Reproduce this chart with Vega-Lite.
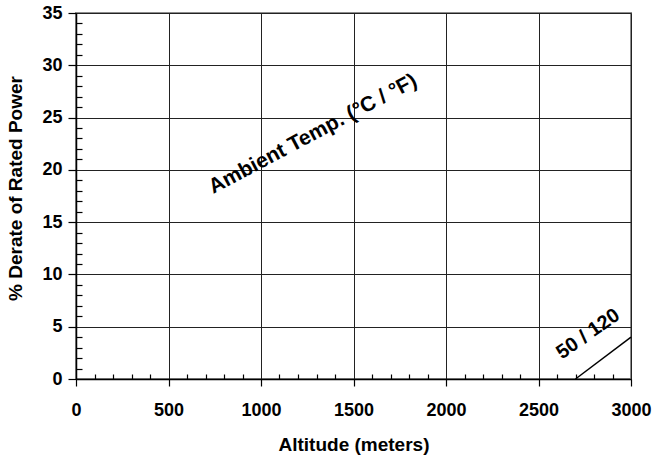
{
  "$schema": "https://vega.github.io/schema/vega-lite/v6.json",
  "width": 555,
  "height": 366,
  "autosize": "none",
  "padding": {"left": 76, "top": 13, "right": 21, "bottom": 77},
  "background": "white",
  "config": {
    "font": "Liberation Sans",
    "view": {"stroke": "#8c8c8c", "strokeWidth": 2},
    "axis": {
      "labelFont": "Liberation Sans",
      "labelFontWeight": "bold",
      "labelFontSize": 18,
      "labelColor": "black",
      "titleFont": "Liberation Sans",
      "titleFontWeight": "bold",
      "titleFontSize": 19,
      "titleColor": "black",
      "domainColor": "black",
      "domainWidth": 1.5,
      "tickColor": "black",
      "tickWidth": 1.2,
      "gridColor": "#222222",
      "gridWidth": 1,
      "gridOpacity": 1
    }
  },
  "datasets": {
    "curve": [
      {"altitude": 2700, "derate": 0},
      {"altitude": 3000, "derate": 4}
    ],
    "notes": [
      {"altitude": 1281, "derate": 23.4, "label": "Ambient Temp. (°C / °F)", "kind": "title"},
      {"altitude": 2768, "derate": 4.3, "label": "50 / 120", "kind": "curve"}
    ]
  },
  "resolve": {"axis": {"x": "independent", "y": "independent"}},
  "layer": [
    {
      "data": {"name": "curve"},
      "mark": {"type": "line", "color": "black", "strokeWidth": 1.5},
      "encoding": {
        "x": {
          "field": "altitude",
          "type": "quantitative",
          "scale": {"domain": [0, 3000], "nice": false, "zero": false},
          "axis": {
            "orient": "bottom",
            "title": "Altitude (meters)",
            "values": [0, 500, 1000, 1500, 2000, 2500, 3000],
            "format": "d",
            "grid": true,
            "tickSize": 7,
            "labelPadding": 15,
            "titlePadding": 16,
            "labelFlush": false
          }
        },
        "y": {
          "field": "derate",
          "type": "quantitative",
          "scale": {"domain": [0, 35], "nice": false},
          "axis": {
            "orient": "left",
            "title": "% Derate of Rated Power",
            "values": [0, 5, 10, 15, 20, 25, 30, 35],
            "format": "d",
            "grid": true,
            "tickSize": 8,
            "labelPadding": 6,
            "titlePadding": 16,
            "titleY": 175,
            "labelFlush": false
          }
        }
      }
    },
    {
      "data": {"name": "notes"},
      "transform": [{"filter": "datum.kind === 'title'"}],
      "mark": {"type": "text", "angle": -28, "fontSize": 21, "fontWeight": "bold", "font": "Liberation Sans", "color": "black", "align": "center", "baseline": "middle"},
      "encoding": {
        "x": {
          "field": "altitude",
          "type": "quantitative",
          "axis": {
            "orient": "bottom",
            "title": null,
            "labels": false,
            "domain": false,
            "grid": false,
            "tickSize": -5,
            "values": [100, 200, 300, 400, 600, 700, 800, 900, 1100, 1200, 1300, 1400, 1600, 1700, 1800, 1900, 2100, 2200, 2300, 2400, 2600, 2700, 2800, 2900]
          }
        },
        "y": {
          "field": "derate",
          "type": "quantitative",
          "axis": {
            "orient": "left",
            "title": null,
            "labels": false,
            "domain": false,
            "grid": false,
            "tickSize": -6,
            "values": [1, 2, 3, 4, 6, 7, 8, 9, 11, 12, 13, 14, 16, 17, 18, 19, 21, 22, 23, 24, 26, 27, 28, 29, 31, 32, 33, 34]
          }
        },
        "text": {"field": "label", "type": "nominal"}
      }
    },
    {
      "data": {"name": "notes"},
      "transform": [{"filter": "datum.kind === 'curve'"}],
      "mark": {"type": "text", "angle": -35, "fontSize": 20, "fontWeight": "bold", "font": "Liberation Sans", "color": "black", "align": "center", "baseline": "middle"},
      "encoding": {
        "x": {"field": "altitude", "type": "quantitative", "axis": null},
        "y": {"field": "derate", "type": "quantitative", "axis": null},
        "text": {"field": "label", "type": "nominal"}
      }
    }
  ]
}
